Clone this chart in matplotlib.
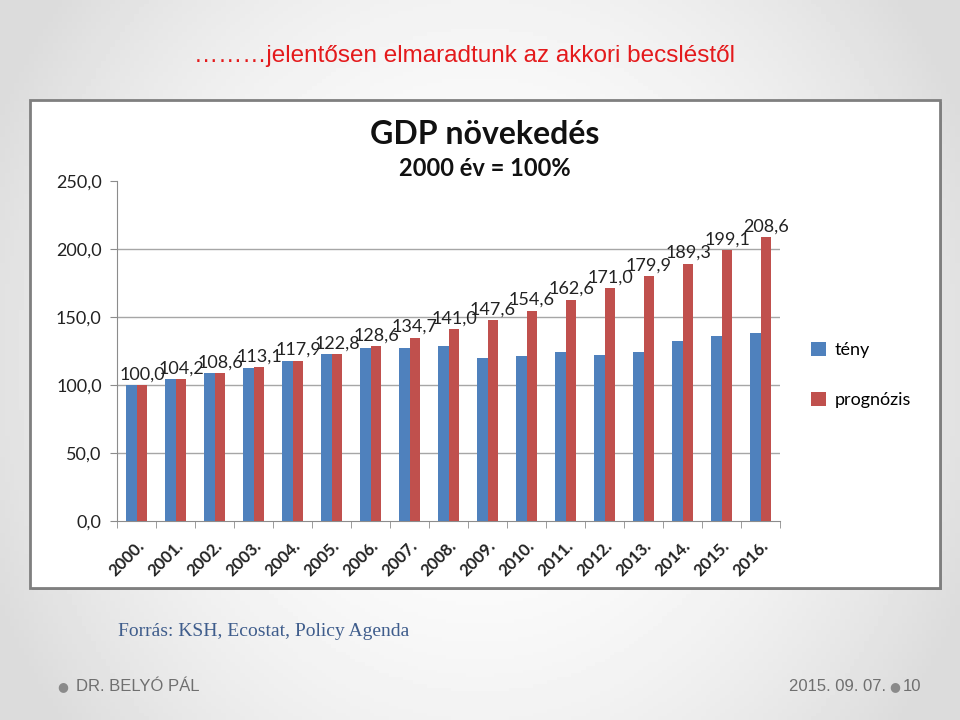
import numpy as np
import matplotlib
matplotlib.use("Agg")
import matplotlib.pyplot as plt
from matplotlib.patches import Rectangle

# data
years = ["2000.", "2001.", "2002.", "2003.", "2004.", "2005.", "2006.", "2007.", "2008.",
         "2009.", "2010.", "2011.", "2012.", "2013.", "2014.", "2015.", "2016."]
teny = [100.0, 104.2, 108.6, 112.5, 117.9, 122.8, 127.0, 127.4, 128.8,
        120.2, 121.6, 124.0, 122.2, 124.0, 132.1, 135.8, 138.2]
prognozis = [100.0, 104.2, 108.6, 113.1, 117.9, 122.8, 128.6, 134.7, 141.0,
             147.6, 154.6, 162.6, 171.0, 179.9, 189.3, 199.1, 208.6]
yticks = [0, 50, 100, 150, 200, 250]

BLUE = "#4f81bd"
RED = "#c0504d"
chart_font = ["Lato", "DejaVu Sans"]

fig = plt.figure(figsize=(9.6, 7.2), dpi=100)

# slide background: soft gray gradient, lighter in the middle
bg = fig.add_axes([0, 0, 1, 1], zorder=-10)
yy, xx = np.mgrid[-1:1:200j, -1:1:200j]
r = np.sqrt((xx * 0.9) ** 2 + (yy * 0.6) ** 2)
bg.imshow(1 - 0.14 * np.clip(r, 0, 1) ** 2, cmap="gray", vmin=0, vmax=1,
          extent=[0, 1, 0, 1], aspect="auto")
bg.axis("off")

# white chart box with gray border and shadow
fig.patches.append(Rectangle((0.0335, 0.180), 0.948, 0.678, transform=fig.transFigure,
                             facecolor="#9a9a9a", edgecolor="none", zorder=-5))
fig.patches.append(Rectangle((0.03125, 0.1833), 0.948, 0.678, transform=fig.transFigure,
                             facecolor="white", edgecolor="#7f7f7f", linewidth=2, zorder=-4))

ax = fig.add_axes([0.1219, 0.2764, 0.6906, 0.4722])
x = np.arange(len(years))
w = 0.28
ax.bar(x - w / 2, teny, w, color=BLUE, label="tény", zorder=3)
ax.bar(x + w / 2, prognozis, w, color=RED, label="prognózis", zorder=3)

for xi, v in zip(x, prognozis):
    ax.annotate(f"{v:.1f}".replace(".", ","), (xi + w / 2, v), xytext=(0, 2),
                textcoords="offset points", ha="center", va="bottom",
                fontsize=13, family=chart_font, color="#222222")

ax.set_xlim(-0.5, len(years) - 0.5)
ax.set_ylim(0, 250)
ax.set_yticks(yticks)
ax.set_yticklabels([f"{t:.1f}".replace(".", ",") for t in yticks],
                   fontsize=13, family=chart_font, color="#222222")
for t in yticks[1:-1]:
    ax.axhline(t, color="#a6a6a6", linewidth=1, zorder=1)

ax.set_xticks(x)
ax.set_xticklabels(years, rotation=45, ha="right", rotation_mode="anchor",
                   fontsize=12, fontweight="bold", family=chart_font, color="#222222")
ax.set_xticks(np.arange(len(years) + 1) - 0.5, minor=True)
ax.tick_params(axis="x", which="major", length=0, pad=12)
ax.tick_params(axis="x", which="minor", length=5, color="#8c8c8c", direction="out")
ax.tick_params(axis="y", length=5, color="#8c8c8c", direction="out", pad=6)

for s in ["top", "right"]:
    ax.spines[s].set_visible(False)
for s in ["left", "bottom"]:
    ax.spines[s].set_color("#8c8c8c")

leg = fig.legend(loc="upper left", bbox_to_anchor=(0.828, 0.548), frameon=False,
                 prop={"family": chart_font, "size": 13}, handlelength=0.8,
                 handleheight=0.8, labelspacing=1.9, handletextpad=0.5)

# chart titles
fig.text(0.505, 0.813, "GDP növekedés", ha="center", va="center", fontsize=23,
         fontweight="bold", family=chart_font, color="#111111")
fig.text(0.505, 0.766, "2000 év = 100%", ha="center", va="center", fontsize=17,
         fontweight="bold", family=chart_font, color="#111111")

# slide texts
fig.text(0.484, 0.922, "………jelentősen elmaradtunk az akkori becsléstől", ha="center",
         va="center", fontsize=17.5, color="#e41a1c",
         family=["Liberation Sans Narrow", "Liberation Sans", "DejaVu Sans"])
fig.text(0.123, 0.123, "Forrás: KSH, Ecostat, Policy Agenda", ha="left", va="center",
         fontsize=14, color="#3f5d8c", family=["Liberation Serif", "DejaVu Serif"])
fig.text(0.065, 0.046, "●", ha="center", va="center", fontsize=9, color="#8a8a8a")
fig.text(0.079, 0.046, "DR. BELYÓ PÁL", ha="left", va="center", fontsize=12,
         color="#6f6f6f", family=["Liberation Sans Narrow", "Liberation Sans"])
fig.text(0.923, 0.046, "2015. 09. 07.", ha="right", va="center", fontsize=12,
         color="#6f6f6f", family=["Liberation Sans Narrow", "Liberation Sans"])
fig.text(0.932, 0.046, "●", ha="center", va="center", fontsize=9, color="#8a8a8a")
fig.text(0.940, 0.046, "10", ha="left", va="center", fontsize=12,
         color="#6f6f6f", family=["Liberation Sans Narrow", "Liberation Sans"])

fig.savefig("out.png", dpi=100)
